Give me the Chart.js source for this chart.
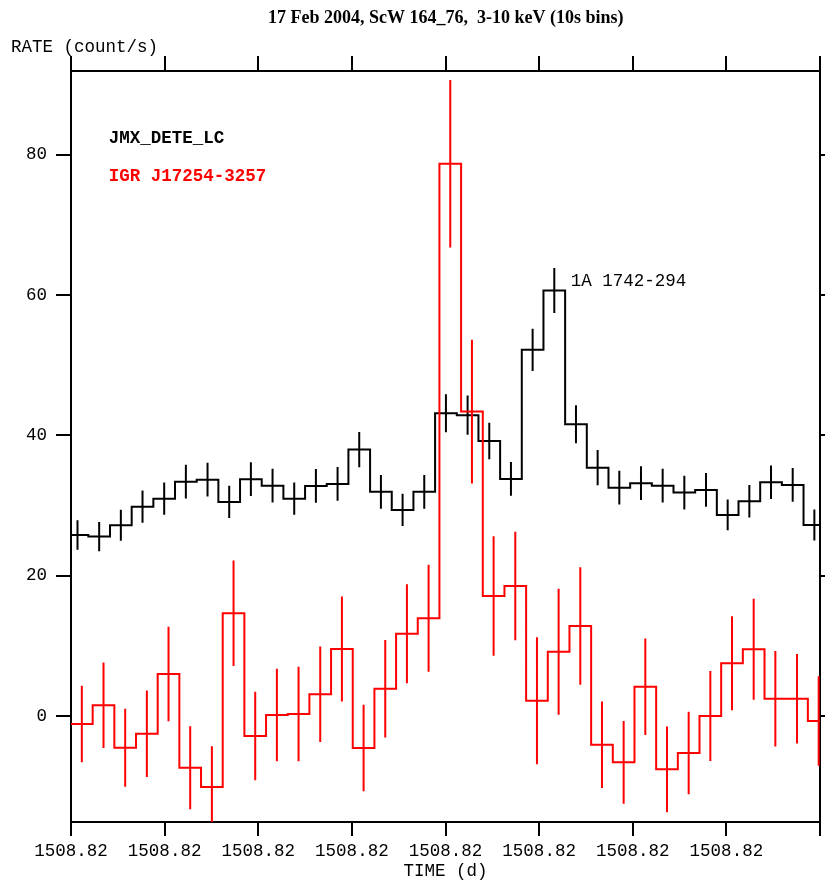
<!DOCTYPE html>
<html>
<head>
<meta charset="utf-8">
<script src="https://cdn.jsdelivr.net/npm/chart.js@4.4.1/dist/chart.umd.min.js"></script>
<style>
  html, body { margin: 0; padding: 0; background: #ffffff; }
  #wrap { width: 825px; height: 880px; position: relative; }
</style>
</head>
<body>
<div id="wrap"><canvas id="c" width="825" height="880"></canvas></div>
<script>
// Time in seconds since day 1508.818 (d); bins are 10 s wide
const binWidth = 10;
const blackT = [3,13,23,33,43,53,63,73,83,93,103,113,123,133,143,153,163,173,183,193,203,213,223,233,243,253,263,273,283,293,303,313,323,333,343];
const blackV = [25.80,25.56,27.18,29.83,30.97,33.39,33.68,30.50,33.74,32.82,30.97,32.78,33.07,37.96,31.94,29.36,31.94,43.14,42.86,39.20,33.78,52.17,60.62,41.58,35.39,32.54,33.17,32.82,31.83,32.21,28.65,30.60,33.31,32.93,27.22];
const blackE = [2.1,2.1,2.2,2.3,2.3,2.4,2.4,2.3,2.4,2.4,2.3,2.4,2.4,2.5,2.4,2.3,2.4,2.7,2.8,2.6,2.4,3.0,3.2,2.7,2.5,2.4,2.4,2.4,2.4,2.4,2.2,2.3,2.4,2.4,2.2];

const redT = [5,15,25,35,45,55,65,75,85,95,105,115,125,135,145,155,165,175,185,195,205,215,225,235,245,255,265,275,285,295,305,315,325,335,345];
const redV = [-1.14,1.53,-4.52,-2.52,5.99,-7.37,-10.12,14.64,-2.85,0.14,0.29,3.09,9.55,-4.56,3.89,11.73,13.93,78.68,43.37,17.10,18.53,2.18,9.16,12.83,-4.09,-6.60,4.18,-7.60,-5.27,0.00,7.51,9.51,2.47,2.47,-0.71];
const redE = [5.46,6.09,5.56,6.16,6.74,5.92,5.80,7.51,6.30,6.58,6.73,6.80,7.48,6.17,6.94,7.06,7.63,11.93,10.23,8.52,7.74,9.05,8.98,8.38,6.17,5.89,6.88,6.10,5.87,6.41,6.70,7.20,6.80,6.37,6.37];

const xTicks = [0,43.2,86.4,129.6,172.8,216,259.2,302.4,345.6];
const xTickLabels = ['1508.82','1508.82','1508.82','1508.82','1508.82','1508.82','1508.82','1508.82',''];
const yTicks = [0,20,40,60,80];
const yTickLabels = ['0','20','40','60','80'];

const xMin = 0, xMax = 345.6;
const yMin = -15.1, yMax = 91.9;

function stepPoints(t, v) {
  const pts = [];
  for (let i = 0; i < t.length; i++) {
    pts.push({x: t[i] - binWidth / 2, y: v[i]});
    pts.push({x: t[i] + binWidth / 2, y: v[i]});
  }
  return pts;
}
function errPoints(t, v, e) {
  const pts = [];
  for (let i = 0; i < t.length; i++) {
    pts.push({x: t[i], y: v[i] - e[i]});
    pts.push({x: t[i], y: v[i] + e[i]});
    pts.push({x: t[i], y: null});
  }
  return pts;
}

const MONO = '"Liberation Mono", "DejaVu Sans Mono", monospace';
const SERIF = '"Liberation Serif", "DejaVu Serif", serif';

const textPlugin = {
  id: 'texts',
  afterDraw(chart) {
    const ctx = chart.ctx;
    ctx.save();
    ctx.textBaseline = 'alphabetic';
    ctx.fillStyle = '#000';
    ctx.font = 'bold 18px ' + SERIF;
    ctx.textAlign = 'center';
    ctx.fillText('17 Feb 2004, ScW 164_76,  3-10 keV (10s bins)', 445.8, 22.7);
    ctx.font = '17.5px ' + MONO;
    ctx.textAlign = 'left';
    ctx.fillText('RATE (count/s)', 11, 52.3);
    ctx.textAlign = 'center';
    ctx.fillText('TIME (d)', 445.4, 876);
    ctx.textAlign = 'left';
    ctx.fillText('1A 1742-294', 570.7, 285.7);
    ctx.font = 'bold 17.5px ' + MONO;
    ctx.fillText('JMX_DETE_LC', 108.7, 143.3);
    ctx.fillStyle = '#ff0000';
    ctx.fillText('IGR J17254-3257', 108.7, 181);
    ctx.restore();
  }
};

function axisCommon(pos) {
  return {
    type: 'linear',
    position: pos,
    offset: false,
    border: { display: true, color: '#000', width: 2 },
    grid: { display: true, drawOnChartArea: false, drawTicks: true, tickLength: 15, color: '#000', lineWidth: 2 },
  };
}

const xScale = Object.assign(axisCommon('bottom'), {
  min: xMin, max: xMax,
  afterBuildTicks: s => { s.ticks = xTicks.map(v => ({value: v})); },
  afterFit: s => { s.height = 58; },
  ticks: {
    autoSkip: false, maxRotation: 0, color: '#000', padding: 5,
    font: { family: MONO, size: 17.5 },
    callback: (val, i) => xTickLabels[i]
  }
});
xScale.grid.tickLength = 14;
const x2Scale = Object.assign(axisCommon('top'), {
  min: xMin, max: xMax,
  afterBuildTicks: s => { s.ticks = xTicks.map(v => ({value: v})); },
  afterFit: s => { s.height = 71; },
  ticks: { display: false }
});
const yScale = Object.assign(axisCommon('left'), {
  min: yMin, max: yMax,
  afterBuildTicks: s => { s.ticks = yTicks.map(v => ({value: v})); },
  afterFit: s => { s.width = 71; },
  ticks: {
    color: '#000', padding: 9,
    font: { family: MONO, size: 17.5 },
    callback: (val, i) => yTickLabels[i]
  }
});
const y2Scale = Object.assign(axisCommon('right'), {
  min: yMin, max: yMax,
  afterBuildTicks: s => { s.ticks = yTicks.map(v => ({value: v})); },
  afterFit: s => { s.width = 5; },
  ticks: { display: false }
});

new Chart(document.getElementById('c'), {
  type: 'line',
  data: {
    datasets: [
      { label: 'IGR J17254-3257', data: stepPoints(redT, redV), borderColor: '#ff0000', borderWidth: 2, pointRadius: 0, fill: false, tension: 0, xAxisID: 'x', yAxisID: 'y' },
      { label: 'IGR err', data: errPoints(redT, redV, redE), borderColor: '#ff0000', borderWidth: 2, pointRadius: 0, fill: false, spanGaps: false, xAxisID: 'x', yAxisID: 'y' },
      { label: 'JMX_DETE_LC', data: stepPoints(blackT, blackV), borderColor: '#000000', borderWidth: 2, pointRadius: 0, fill: false, tension: 0, xAxisID: 'x', yAxisID: 'y' },
      { label: 'JMX err', data: errPoints(blackT, blackV, blackE), borderColor: '#000000', borderWidth: 2, pointRadius: 0, fill: false, spanGaps: false, xAxisID: 'x', yAxisID: 'y' }
    ]
  },
  options: {
    responsive: false,
    animation: false,
    devicePixelRatio: 1,
    layout: { padding: 0 },
    plugins: { legend: { display: false }, tooltip: { enabled: false }, title: { display: false } },
    scales: { x: xScale, x2: x2Scale, y: yScale, y2: y2Scale }
  },
  plugins: [textPlugin]
});
</script>
</body>
</html>
